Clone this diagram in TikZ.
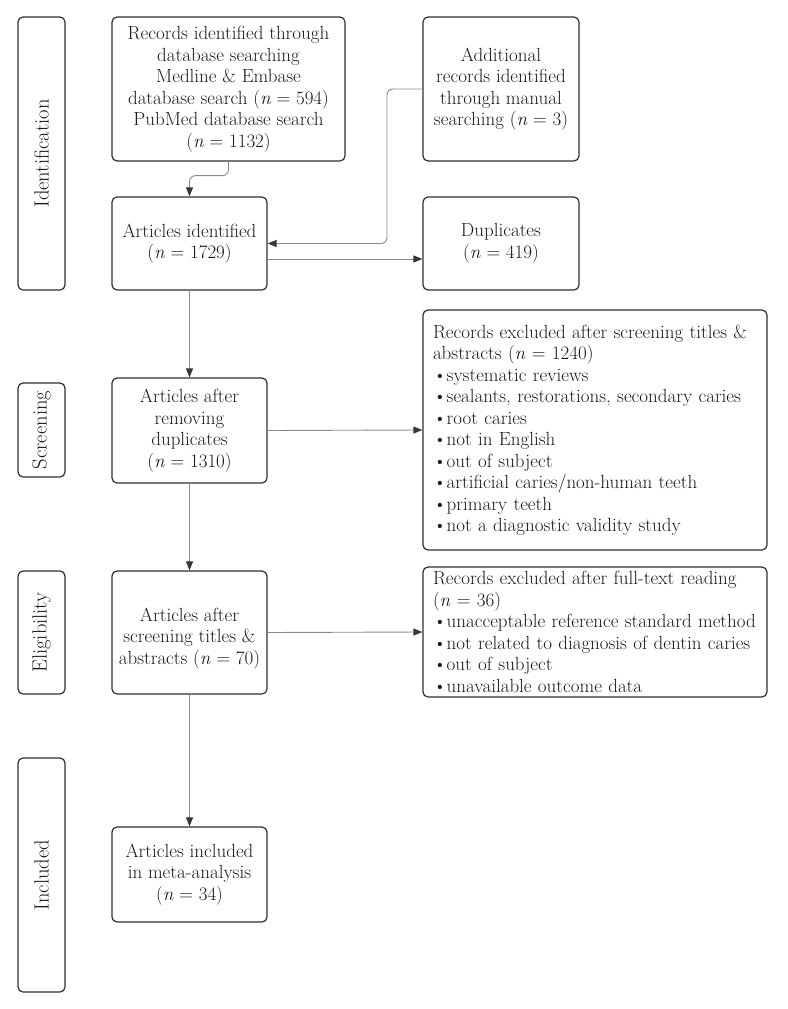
\documentclass[tikz,border=0pt]{standalone}
\usetikzlibrary{arrows.meta}
\definecolor{boxc}{HTML}{303030}
\definecolor{linec}{HTML}{8A8A8A}
\definecolor{tipc}{HTML}{383838}
\newcommand{\mainfs}{\fontsize{19}{21.5}\selectfont}
\newcommand{\stagefs}{\fontsize{20.5}{22}\selectfont}
\begin{document}
\begin{tikzpicture}[x=1pt,y=-1pt,
  box/.style={draw=boxc, line width=1.2pt, rounded corners=5pt, inner sep=0pt, align=center, font=\mainfs, text=black!90},
  lbox/.style={draw=boxc, line width=1.2pt, rounded corners=5pt, inner xsep=10pt, inner ysep=0pt, text width=324pt, align=left, font=\mainfs, text=black!90},
  stage/.style={draw=boxc, line width=1.2pt, rounded corners=5pt, minimum width=47pt, inner sep=0pt},
  stagetext/.style={rotate=90, font=\stagefs, text=black!90},
  conn/.style={draw=linec, line width=0.9pt, -{Triangle[length=9pt,width=7pt,color=tipc]}},
  connr/.style={conn, rounded corners=6pt}]
\useasboundingbox (0,0) rectangle (787,1009);

% stage boxes
\node[stage, minimum height=273pt] (s1) at (41.5,153.5) {};
\node[stagetext] (s1t) at (s1) {Identification};
\node[stage, minimum height=94pt] (s2) at (41.5,430) {};
\node[stagetext] (s2t) at (s2) {Screening};
\node[stage, minimum height=123pt] (s3) at (41.5,632.5) {};
\node[stagetext] (s3t) at (s3) {Eligibility};
\node[stage, minimum height=234pt] (s4) at (41.5,875) {};
\node[stagetext] (s4t) at (s4) {Included};

% main boxes
\node[box, minimum width=233pt, minimum height=144pt] (rec) at (228.5,89)
  {Records identified through\\database searching\\Medline \& Embase\\database search (\textit{n} = 594)\\PubMed database search\\(\textit{n} = 1132)};
\node[box, minimum width=156pt, minimum height=144pt] (man) at (501,89)
  {Additional\\records identified\\through manual\\searching (\textit{n} = 3)};
\node[box, minimum width=155pt, minimum height=93pt] (ident) at (189.5,243.5)
  {Articles identified\\(\textit{n} = 1729)};
\node[box, minimum width=156pt, minimum height=93pt] (dup) at (501,243.5)
  {Duplicates\\(\textit{n} = 419)};
\node[box, minimum width=155pt, minimum height=105pt] (rem) at (189.5,430.5)
  {Articles after\\removing\\duplicates\\(\textit{n} = 1310)};
\node[lbox, minimum height=240pt] (scr) at (595,430)
  {Records excluded after screening titles \&\\abstracts (\textit{n} = 1240)\\
   \textbullet systematic reviews\\
   \textbullet sealants, restorations, secondary caries\\
   \textbullet root caries\\
   \textbullet not in English\\
   \textbullet out of subject\\
   \textbullet artificial caries/non-human teeth\\
   \textbullet primary teeth\\
   \textbullet not a diagnostic validity study};
\node[box, minimum width=155pt, minimum height=123pt] (elig) at (189.5,632.5)
  {\rule{0pt}{25pt}Articles after\\screening titles \&\\abstracts (\textit{n} = 70)};
\node[lbox, minimum height=130pt] (ft) at (595,632)
  {Records excluded after full-text reading\\(\textit{n} = 36)\\
   \textbullet unacceptable reference standard method\\
   \textbullet not related to diagnosis of dentin caries\\
   \textbullet out of subject\\
   \textbullet unavailable outcome data};
\node[box, minimum width=155pt, minimum height=95pt] (inc) at (189.5,874.5)
  {Articles included\\in meta-analysis\\(\textit{n} = 34)};

% connectors
\draw[connr] (rec.south) -- ++(0,14) -| (ident.north);
\draw[connr] (man.west) -| (387,243.5) -- (ident.east);
\draw[conn] ([yshift=-15.5pt]ident.east) -- ([yshift=-15.5pt]dup.west);
\draw[conn] (ident.south) -- (rem.north);
\draw[conn] (rem.east) -- (scr.west);
\draw[conn] (rem.south) -- (elig.north);
\draw[conn] (elig.east) -- (ft.west);
\draw[conn] (elig.south) -- (inc.north);
\end{tikzpicture}
\end{document}
